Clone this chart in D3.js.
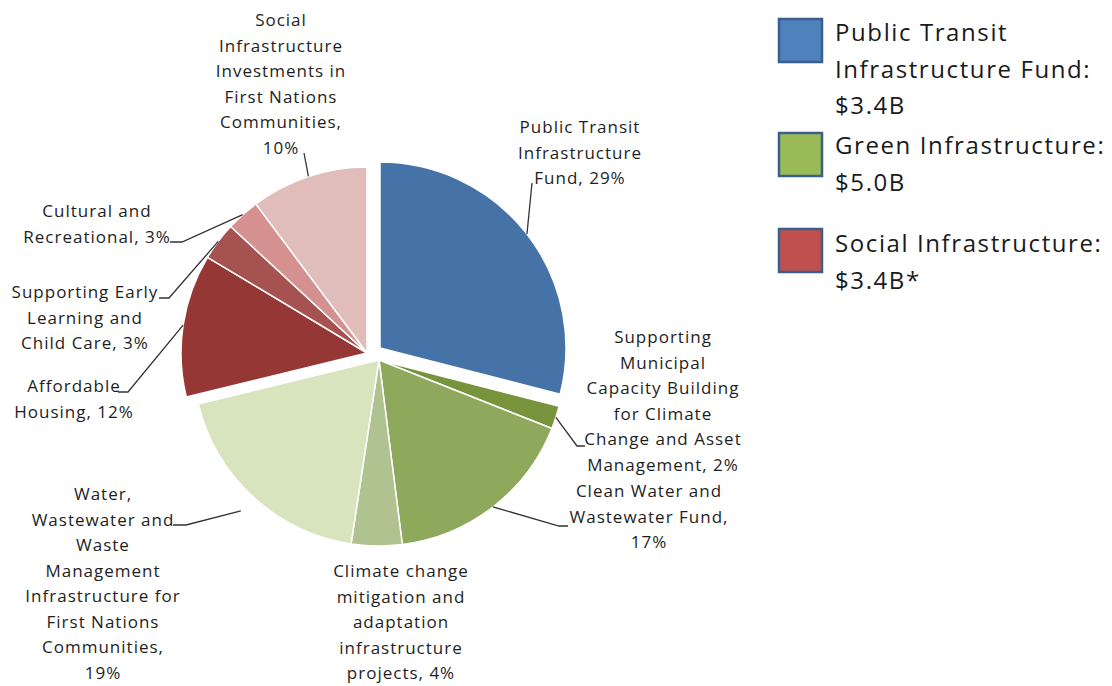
<!DOCTYPE html>
<html>
<head>
<meta charset="utf-8">
<script src="https://cdn.jsdelivr.net/npm/d3@7"></script>
<style>
  body { margin: 0; background: #fff; }
  text { font-family: "Open Sans", sans-serif; }
</style>
</head>
<body>
<script>
// data
const categories = [
  "Public Transit Infrastructure Fund",
  "Supporting Municipal Capacity Building for Climate Change and Asset Management",
  "Clean Water and Wastewater Fund",
  "Climate change mitigation and adaptation infrastructure projects",
  "Water, Wastewater and Waste Management Infrastructure for First Nations Communities",
  "Affordable Housing",
  "Supporting Early Learning and Child Care",
  "Cultural and Recreational",
  "Social Infrastructure Investments in First Nations Communities"
]
const shares = [29, 2, 17, 4.4, 18.8, 12.4, 3.3, 2.9, 10.2]
const groups = ["transit", "green", "green", "green", "green", "social", "social", "social", "social"]
// label text, {p} becomes the percent
const labelLines = [
  ["Public Transit", "Infrastructure", "Fund, {p}"],
  ["Supporting", "Municipal", "Capacity Building", "for Climate", "Change and Asset", "Management, {p}"],
  ["Clean Water and", "Wastewater Fund,", "{p}"],
  ["Climate change", "mitigation and", "adaptation", "infrastructure", "projects, {p}"],
  ["Water,", "Wastewater and", "Waste", "Management", "Infrastructure for", "First Nations", "Communities,", "{p}"],
  ["Affordable", "Housing, {p}"],
  ["Supporting Early", "Learning and", "Child Care, {p}"],
  ["Cultural and", "Recreational, {p}"],
  ["Social", "Infrastructure", "Investments in", "First Nations", "Communities,", "{p}"]
]
const legendLabels = [
  ["Public Transit", "Infrastructure Fund:", "$3.4B"],
  ["Green Infrastructure:", "$5.0B"],
  ["Social Infrastructure:", "$3.4B*"]
]

// styles and layout
const width = 1112
const height = 686
const cx = 379, cy = 360, radius = 186
const sliceColors = ["#4573a7", "#77933c", "#8ea95c", "#afc290", "#d8e4bd", "#953735", "#a65250", "#d4918f", "#e0bcbb"]
const groupShift = { transit: [1, -12], green: [0, 0], social: [-12, -7] }
const legendColors = ["#4f81bd", "#9bbb59", "#c0504d"]
const legendBoxY = [19, 133, 229]
const legendTextY = [41, 154, 252]
const labelLayout = [
  { x: 580, y: 133, lead: [[532, 183]] },
  { x: 663, y: 343, lead: [[585, 446], [577, 446]] },
  { x: 649, y: 497, lead: [[568, 526], [559, 526]] },
  { x: 401, y: 577, lead: null },
  { x: 103, y: 500, lead: [[173, 525], [186, 525]], reach: 1.1 },
  { x: 74, y: 392, lead: [[118, 392], [128, 392]] },
  { x: 85, y: 298, lead: [[159, 298], [169, 298]] },
  { x: 97, y: 217, lead: [[170, 242], [182, 242]] },
  { x: 281, y: 26, lead: [[304, 153]] }
]
const lineStep = 25.5

const svg = d3.select('body').append('svg')
        .attr('width', width)
        .attr('height', height)

const total = d3.sum(shares)
const pct = v => Math.round(v / total * 100) + '%'

const pie = d3.pie().sort(null).value(d => d)
const arcs = pie(shares)
const arc = d3.arc().innerRadius(0).outerRadius(radius)

// slices
svg.selectAll('path.slice')
        .data(arcs)
        .join('path')
        .attr('class', 'slice')
        .attr('d', arc)
        .attr('fill', (d, i) => sliceColors[i])
        .attr('stroke', '#fff')
        .attr('stroke-width', 1.5)
        .attr('stroke-linejoin', 'round')
        .attr('transform', (d, i) => {
            const s = groupShift[groups[i]]
            return 'translate(' + (cx + s[0]) + ',' + (cy + s[1]) + ')'
        })

// leader lines
const rimPoint = (d, i, f) => {
    const s = groupShift[groups[i]]
    const a = (d.startAngle + d.endAngle) / 2
    return [cx + s[0] + Math.sin(a) * radius * f, cy + s[1] - Math.cos(a) * radius * f]
}
svg.selectAll('polyline.leader')
        .data(arcs.filter((d, i) => labelLayout[i].lead))
        .join('polyline')
        .attr('class', 'leader')
        .attr('fill', 'none')
        .attr('stroke', '#333')
        .attr('stroke-width', 1.3)
        .attr('points', d => {
            const L = labelLayout[d.index]
            const pts = L.lead.concat([rimPoint(d, d.index, L.reach || 1)])
            return pts.map(p => p.join(',')).join(' ')
        })

// slice labels
arcs.forEach((d, i) => {
    const L = labelLayout[i]
    const t = svg.append('text')
            .attr('text-anchor', 'middle')
            .attr('font-size', 17)
            .attr('letter-spacing', 1)
            .attr('fill', '#1e1e1e')
    labelLines[i].forEach((line, j) => {
        t.append('tspan')
                .attr('x', L.x)
                .attr('y', L.y + j * lineStep)
                .text(line.replace('{p}', pct(d.data)))
    })
})

// legend
legendLabels.forEach((lines, i) => {
    svg.append('rect')
            .attr('x', 779)
            .attr('y', legendBoxY[i])
            .attr('width', 43)
            .attr('height', 43)
            .attr('fill', legendColors[i])
            .attr('stroke', '#3a5f8c')
            .attr('stroke-width', 2.5)
    const t = svg.append('text')
            .attr('font-size', 24)
            .attr('letter-spacing', 1.6)
            .attr('fill', '#1a1a1a')
    lines.forEach((line, j) => {
        t.append('tspan')
                .attr('x', 835)
                .attr('y', legendTextY[i] + j * 36.5)
                .text(line)
    })
})
</script>
</body>
</html>
